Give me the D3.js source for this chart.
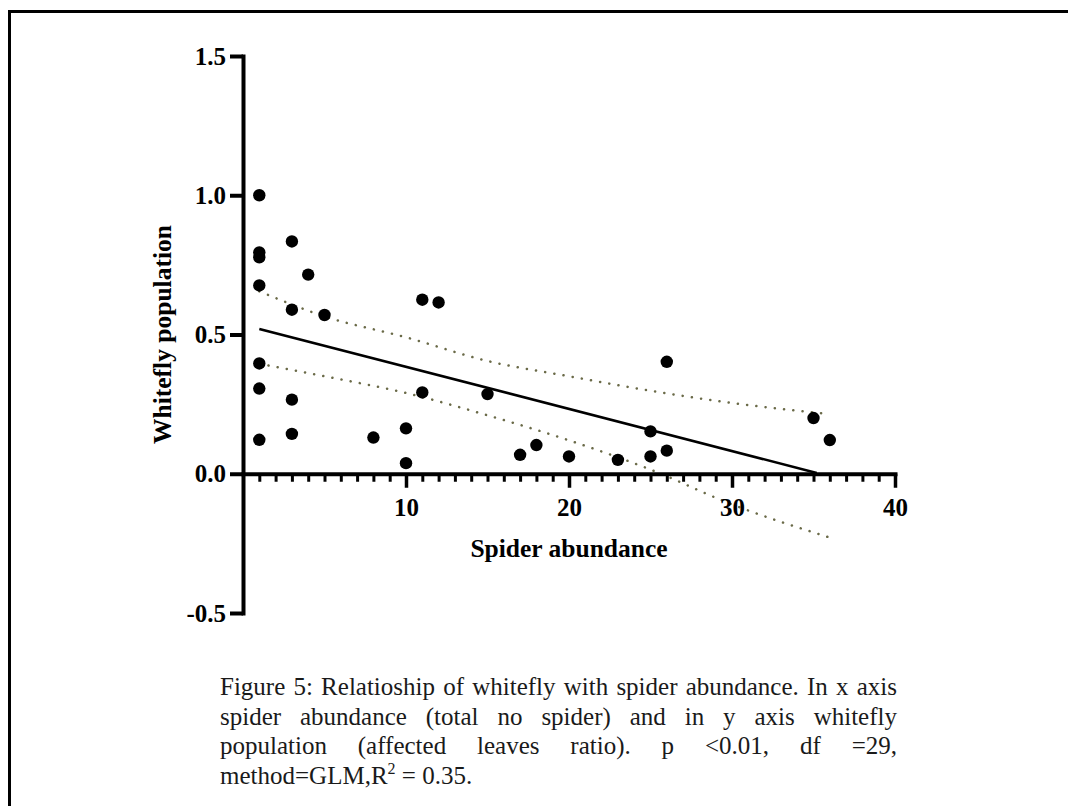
<!DOCTYPE html>
<html>
<head>
<meta charset="utf-8">
<script src="https://cdn.jsdelivr.net/npm/d3@7"></script>
<style>
    body { margin: 0; background: #fff; }
    svg { display: block; }
</style>
</head>
<body>
<div id="container"></div>
<script>
// Data
const spiderCounts = [1, 1, 1, 1, 1, 1, 1, 3, 3, 3, 3, 4, 5, 8, 10, 10, 11, 11, 12, 15,
    17, 18, 20, 23, 25, 25, 26, 26, 35, 36];
const whiteflyRatios = [1.0, 0.795, 0.777, 0.676, 0.396, 0.306, 0.122, 0.834, 0.589, 0.266, 0.143,
    0.715, 0.57, 0.13, 0.163, 0.038, 0.625, 0.292, 0.615, 0.286,
    0.068, 0.103, 0.062, 0.05, 0.152, 0.062, 0.402, 0.083, 0.2, 0.121];

// fitted line end points (GLM)
const fitX = [1, 35.2];
const fitY = [0.52, 0.003];

// confidence band, sampled along x
const bandX = [1, 5, 10, 15, 20, 25, 30, 36];
const bandUpper = [0.655, 0.565, 0.49, 0.405, 0.35, 0.298, 0.254, 0.214];
const bandLower = [0.395, 0.35, 0.29, 0.21, 0.12, 0.015, -0.11, -0.229];

const yTicks = [-0.5, 0, 0.5, 1.0, 1.5];
const xMajorTicks = [10, 20, 30, 40];
const xMinorTicks = d3.range(1, 40).filter(d => d % 10 !== 0);

const xTitle = 'Spider abundance';
const yTitle = 'Whitefly population';
const captionLines = [
    'Figure 5: Relatioship of whitefly with spider abundance. In x axis',
    'spider abundance (total no spider) and in y axis whitefly',
    'population (affected leaves ratio). p <0.01, df =29,'
];

const width = 1068;
const height = 806;
const serif = "'Liberation Serif', 'DejaVu Serif', 'Times New Roman', Times, serif";

const svg = d3.select('#container')
    .append('svg')
    .attr('width', width)
    .attr('height', height);

// outer frame (right / bottom edges run off the page)
svg.append('rect')
    .attr('x', 9.5)
    .attr('y', 11.5)
    .attr('width', 1200)
    .attr('height', 1000)
    .attr('fill', 'none')
    .attr('stroke', '#000')
    .attr('stroke-width', 3);

const x = d3.scaleLinear().domain([0, 40]).range([243, 895]);
const y = d3.scaleLinear().domain([-0.5, 1.5]).range([613, 56]);

// Confidence bands
const bandLine = (vals) => d3.line()
    .x((d, i) => x(bandX[i]))
    .y(d => y(d))
    .curve(d3.curveMonotoneX)(vals);

[bandUpper, bandLower].forEach(vals => {
    svg.append('path')
        .attr('d', bandLine(vals))
        .attr('fill', 'none')
        .attr('stroke', '#6a6a48')
        .attr('stroke-width', 2.5)
        .attr('stroke-linecap', 'round')
        .attr('stroke-dasharray', '0.1,9.2');
});

// Regression line
svg.append('line')
    .attr('x1', x(fitX[0]))
    .attr('y1', y(fitY[0]))
    .attr('x2', x(fitX[1]))
    .attr('y2', y(fitY[1]))
    .attr('stroke', '#000')
    .attr('stroke-width', 2.6);

// Points
svg.append('g')
    .selectAll('circle')
    .data(spiderCounts)
    .join('circle')
    .attr('cx', d => x(d))
    .attr('cy', (d, i) => y(whiteflyRatios[i]))
    .attr('r', 6.2)
    .attr('fill', '#000');

const styleAxis = (g, tickWidth) => {
    g.select('.domain')
        .attr('stroke-width', 4)
        .attr('stroke-linecap', 'square');
    g.selectAll('.tick line').attr('stroke-width', tickWidth);
    g.selectAll('.tick text')
        .attr('font-family', serif)
        .attr('font-weight', 'bold')
        .attr('font-size', 25)
        .attr('fill', '#000');
};

// X axis: minor ticks then major ticks with labels
svg.append('g')
    .attr('transform', `translate(0,${y(0)})`)
    .call(d3.axisBottom(x).tickValues(xMinorTicks).tickSize(8).tickFormat(''))
    .call(g => g.select('.domain').remove())
    .call(g => styleAxis(g, 3));

svg.append('g')
    .attr('transform', `translate(0,${y(0)})`)
    .call(d3.axisBottom(x).tickValues(xMajorTicks).tickSize(14).tickSizeOuter(0).tickPadding(10))
    .call(g => styleAxis(g, 3.5));

// Y axis
svg.append('g')
    .attr('transform', `translate(${x(0)},0)`)
    .call(d3.axisLeft(y).tickValues(yTicks).tickSize(13).tickSizeOuter(0).tickPadding(4)
        .tickFormat(d => d.toFixed(1)))
    .call(g => styleAxis(g, 4));

// Axis titles
svg.append('text')
    .attr('x', (x.range()[0] + x.range()[1]) / 2)
    .attr('y', 557)
    .attr('text-anchor', 'middle')
    .attr('font-family', serif)
    .attr('font-weight', 'bold')
    .attr('font-size', 25.5)
    .text(xTitle);

svg.append('text')
    .attr('transform', `translate(171,${(y.range()[0] + y.range()[1]) / 2}) rotate(-90)`)
    .attr('text-anchor', 'middle')
    .attr('font-family', serif)
    .attr('font-weight', 'bold')
    .attr('font-size', 25.5)
    .text(yTitle);

// Caption, justified between left and right edges
const capLeft = 220;
const capRight = 897;
const capTop = 695;
const capStep = 29.5;
const capSize = 25;

captionLines.forEach((line, li) => {
    const words = line.split(' ');
    const g = svg.append('g');
    const nodes = words.map(w => g.append('text')
        .attr('y', capTop + li * capStep)
        .attr('font-family', serif)
        .attr('font-size', capSize)
        .attr('fill', '#1a1a1a')
        .text(w));
    const widths = nodes.map(n => n.node().getComputedTextLength());
    const gap = (capRight - capLeft - d3.sum(widths)) / (words.length - 1);
    let cx = capLeft;
    nodes.forEach((n, i) => {
        n.attr('x', cx);
        cx += widths[i] + gap;
    });
});

// last line with superscript
const last = svg.append('text')
    .attr('x', capLeft)
    .attr('y', capTop + 3 * capStep)
    .attr('font-family', serif)
    .attr('font-size', capSize)
    .attr('fill', '#1a1a1a');
last.append('tspan').text('method=GLM,R');
last.append('tspan').attr('dy', -10).attr('font-size', 16).text('2');
last.append('tspan').attr('dy', 10).text('\u00a0= 0.35.');
</script>
</body>
</html>
